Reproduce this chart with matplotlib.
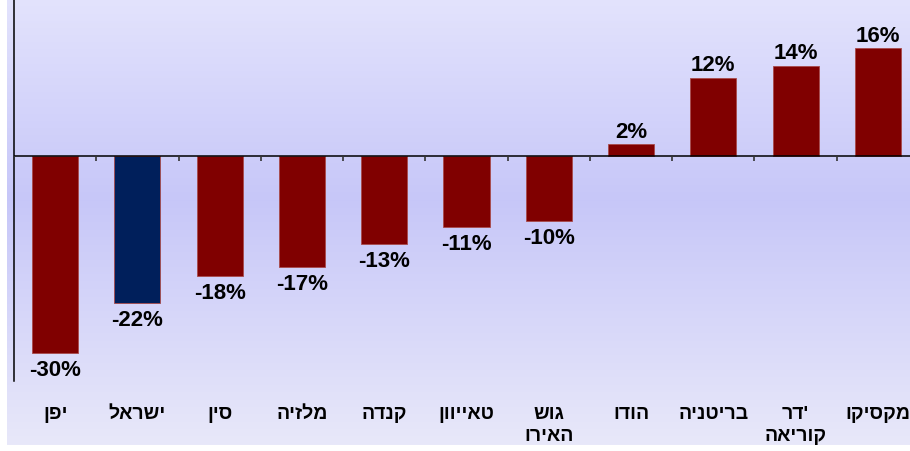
import numpy as np
import matplotlib.pyplot as plt
from matplotlib.colors import LinearSegmentedColormap

# Data (percent change)
countries = ["מקסיקו", "דר' קוריאה", "בריטניה", "הודו", "גוש האירו",
             "טאייוון", "קנדה", "מלזיה", "סין", "ישראל", "יפן"]
values = [16.4, 13.7, 11.9, 1.8, -9.9, -10.8, -13.4, -16.9, -18.3, -22.4, -30.0]
labels = ["16%", "14%", "12%", "2%", "-10%", "-11%", "-13%", "-17%", "-18%", "-22%", "-30%"]
highlight = "ישראל"

# chart is drawn right-to-left: first category sits at the right edge
countries = countries[::-1]
values = values[::-1]
labels = labels[::-1]

plt.rcParams['font.family'] = ['Liberation Sans', 'DejaVu Sans']


# matplotlib has no bidi support: reverse Hebrew runs for display
def visual(s):
    lines = []
    for word in s.split(" "):
        tail = ""
        if word.endswith("'"):
            word, tail = word[:-1], "'"
        lines.append(word[::-1] + tail)
    return "\n".join(lines)


fig = plt.figure(figsize=(9.1, 4.52), dpi=100, facecolor='white')

# Gradient background
bg = fig.add_axes([7 / 910, 6 / 452, 903 / 910, 446 / 452])
cmap = LinearSegmentedColormap.from_list(
    'bg', [(0.0, (0.89, 0.89, 0.99)), (0.45, (0.78, 0.78, 0.975)), (1.0, (0.91, 0.91, 0.98))])
grad = np.linspace(0, 1, 256).reshape(-1, 1)
bg.imshow(grad, cmap=cmap, aspect='auto', extent=[0, 1, 0, 1], origin='upper')
bg.axis('off')

ax = fig.add_axes([14 / 910, 70 / 452, 905 / 910, 382 / 452])
ax.patch.set_alpha(0)

x = np.arange(len(countries))
colors = ['#001f5b' if c == highlight else '#800000' for c in countries]
ax.bar(x, values, width=0.56, color=colors, edgecolor='#a84a4a', linewidth=0.6, zorder=2)

ax.set_xlim(-0.5, len(countries) - 0.5)
ax.set_ylim(-34.2, 23.9)

ax.axhline(0, color='black', lw=1.1, zorder=3)
ax.vlines(np.arange(len(countries) + 1) - 0.5, -0.75, 0, color='#333333', lw=1.2, zorder=3)

for xi, v, lab in zip(x, values, labels):
    if v >= 0:
        ax.text(xi, v + 0.4, lab, ha='center', va='bottom', fontsize=16, fontweight='bold')
    else:
        ax.text(xi, v - 0.9, lab, ha='center', va='top', fontsize=16, fontweight='bold')

for xi, c in zip(x, countries):
    ax.text(xi, -0.062, visual(c), transform=ax.get_xaxis_transform(), ha='center', va='top',
            fontsize=14, fontweight='bold', linespacing=1.4)

for s in ['top', 'right', 'bottom']:
    ax.spines[s].set_visible(False)
ax.spines['left'].set_linewidth(1.1)
ax.set_xticks([])
ax.set_yticks([])

fig.savefig('out.png', dpi=100, facecolor='white')
